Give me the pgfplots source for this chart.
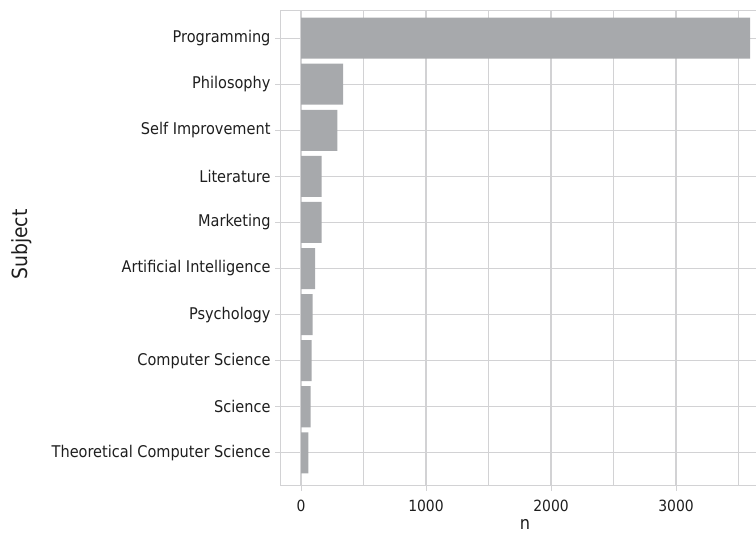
\documentclass[border=0pt]{standalone}
\usepackage{pgfplots}
\pgfplotsset{compat=1.18}
\usepackage{fontspec}
\setmainfont{DejaVu Sans Condensed}
\definecolor{barc}{HTML}{A7A9AC}
\definecolor{gridc}{HTML}{D2D2D4}
\definecolor{txt}{HTML}{1E1E1E}
\begin{document}
\begin{tikzpicture}[x=1bp,y=1bp]
\useasboundingbox (0,0) rectangle (756,536);
\begin{axis}[
  at={(280bp,50bp)}, anchor=south west,
  scale only axis, width=476bp, height=475bp,
  xmin=-168, xmax=3640, ymin=-0.72, ymax=9.59,
  xtick={0,1000,2000,3000},
  minor xtick={500,1500,2500,3500},
  ytick={0,...,9},
  yticklabels={Theoretical Computer Science,Science,Computer Science,Psychology,Artificial Intelligence,Marketing,Literature,Self Improvement,Philosophy,Programming},
  /pgf/number format/assume math mode=true,
  /pgf/number format/set thousands separator={},
  xmajorgrids, xminorgrids, ymajorgrids,
  grid style={gridc, line width=1.3bp},
  minor grid style={gridc, line width=1.3bp},
  axis line style={gridc, line width=1bp},
  tick style={gridc, line width=1bp},
  major tick length=5bp, minor tick length=0pt,
  tick align=outside,
  xtick pos=bottom, ytick pos=left,
  yticklabel style={font=\fontsize{16.2}{18}\selectfont, text=txt, xshift=-1bp},
  xticklabel style={font=\fontsize{15.5}{18}\selectfont, text=txt, yshift=-6bp},
  xlabel={n}, ylabel={Subject},
  xlabel style={font=\fontsize{18}{20}\selectfont, text=txt, inner sep=0pt, text depth=0pt, at={(rel axis cs:0.5,0)}, anchor=center, xshift=7bp, yshift=-38bp},
  ylabel style={font=\fontsize{21}{23}\selectfont, text=txt, at={(rel axis cs:0,0.5)}, anchor=center, yshift=258bp, xshift=4bp},
]
\addplot[xbar, bar width=0.89, fill=barc, draw=none] coordinates {
 (59,0) (77,1) (85,2) (93,3) (112,4) (165,5) (165,6) (290,7) (336,8) (3592,9)
};
\end{axis}
\end{tikzpicture}
\end{document}
